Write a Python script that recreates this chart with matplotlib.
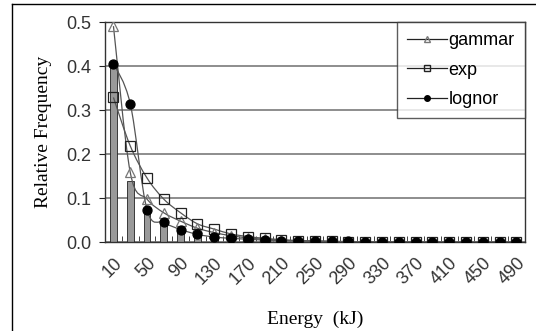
import matplotlib.pyplot as plt
from matplotlib.path import Path
from matplotlib.patches import PathPatch
from matplotlib.lines import Line2D

# energy classes (kJ)
energy = [10, 30, 50, 70, 90, 110, 130, 150, 170, 190, 210, 230, 250,
          270, 290, 310, 330, 350, 370, 390, 410, 430, 450, 470, 490]
tick_labels = ['10', '50', '90', '130', '170', '210', '250', '290',
               '330', '370', '410', '450', '490']

# observed relative frequency (bars)
observed = [0.405, 0.139, 0.075, 0.045, 0.028, 0.018, 0.012, 0.008, 0.006,
            0.004, 0.003, 0.002, 0.002, 0.001, 0.001, 0.001, 0.001, 0.001,
            0.0, 0.0, 0.0, 0.0, 0.0, 0.0, 0.0]

# fitted distributions
gammar = [0.491, 0.159, 0.098, 0.067, 0.048, 0.032, 0.022, 0.015, 0.010,
          0.007, 0.005, 0.003, 0.002, 0.002, 0.001, 0.001, 0.001, 0.0,
          0.0, 0.0, 0.0, 0.0, 0.0, 0.0, 0.0]
exp = [0.329, 0.219, 0.146, 0.098, 0.067, 0.042, 0.030, 0.019, 0.013,
       0.009, 0.006, 0.004, 0.003, 0.002, 0.001, 0.001, 0.001, 0.0,
       0.0, 0.0, 0.0, 0.0, 0.0, 0.0, 0.0]
lognor = [0.406, 0.315, 0.074, 0.045, 0.029, 0.018, 0.012, 0.009, 0.007,
          0.005, 0.004, 0.003, 0.003, 0.002, 0.002, 0.001, 0.001, 0.001,
          0.001, 0.001, 0.0, 0.0, 0.0, 0.0, 0.0]


def smooth_path(xs, ys):
    # Catmull-Rom style bezier, like Excel's smoothed lines
    pts = list(zip(xs, ys))
    verts = [pts[0]]
    codes = [Path.MOVETO]
    n = len(pts)
    for i in range(n - 1):
        p0 = pts[i - 1] if i > 0 else pts[i]
        p1 = pts[i]
        p2 = pts[i + 1]
        p3 = pts[i + 2] if i + 2 < n else pts[i + 1]
        c1 = (p1[0] + (p2[0] - p0[0]) / 6, p1[1] + (p2[1] - p0[1]) / 6)
        c2 = (p2[0] - (p3[0] - p1[0]) / 6, p2[1] - (p3[1] - p1[1]) / 6)
        verts += [c1, c2, p2]
        codes += [Path.CURVE4] * 3
    return Path(verts, codes)


fig = plt.figure(figsize=(5.36, 3.31), dpi=100)
ax = fig.add_axes([0.196, 0.268, 0.783, 0.665])

x = list(range(len(energy)))

ax.bar(x, observed, width=0.4, color='#999999', edgecolor='#222222',
       linewidth=0.6, zorder=2)

series = [
    ('gammar', gammar, '^', 'none', '#777777'),
    ('exp', exp, 's', 'none', '#222222'),
    ('lognor', lognor, 'o', '#000000', '#000000'),
]
handles = []
for name, vals, mk, fc, ec in series:
    ax.add_patch(PathPatch(smooth_path(x, vals), fill=False,
                           edgecolor='#555555', linewidth=0.9, zorder=3))
    ax.plot(x, vals, linestyle='none', marker=mk, markersize=6.5,
            markerfacecolor=fc, markeredgecolor=ec, markeredgewidth=0.9,
            zorder=4)
    handles.append(Line2D([], [], color='#222222', linewidth=0.9, marker=mk,
                          markersize=4, markerfacecolor=fc,
                          markeredgecolor=ec, label=name))

ax.set_xlim(-0.5, len(energy) - 0.5)
ax.set_ylim(0, 0.5)
ax.set_yticks([0.0, 0.1, 0.2, 0.3, 0.4, 0.5])
ax.set_yticklabels(['0.0', '0.1', '0.2', '0.3', '0.4', '0.5'],
                   fontfamily='Liberation Sans', fontsize=13, color='#333333')
ax.yaxis.grid(True, color='#7a7a7a', linewidth=1.2, zorder=0)
ax.set_axisbelow(True)

ax.set_xticks(x[::2])
ax.set_xticklabels(tick_labels, rotation=45, ha='right', va='top',
                   rotation_mode='anchor', fontfamily='Liberation Sans',
                   fontsize=13, color='#333333')
ax.set_xticks([i + 0.5 for i in x[:-1]], minor=True)
ax.tick_params(axis='x', which='major', length=0, pad=9)
ax.tick_params(axis='x', which='minor', direction='in', length=4,
               color='#222222')
ax.tick_params(axis='y', length=4, color='#222222', pad=6)

for sp in ax.spines.values():
    sp.set_color('#333333')
    sp.set_linewidth(1.0)

ax.set_xlabel('Energy  (kJ)', fontfamily='Liberation Serif', fontsize=14,
              labelpad=16)
ax.set_ylabel('Relative Frequency', fontfamily='Liberation Serif',
              fontsize=14, labelpad=10)

leg = ax.legend(handles=handles, loc='upper right', bbox_to_anchor=(1.0, 1.0),
                prop={'family': 'Liberation Sans', 'size': 13},
                frameon=True, fancybox=False, handlelength=2.2,
                handletextpad=0.1, borderpad=0.55, labelspacing=0.7,
                borderaxespad=0)
leg.get_frame().set_edgecolor('#333333')
leg.get_frame().set_linewidth(1.0)
leg.set_zorder(10)

# outer chart border (left and top)
fig.add_artist(Line2D([0.022, 0.022], [0, 0.988], transform=fig.transFigure,
                      color='black', linewidth=1.0))
fig.add_artist(Line2D([0.022, 1.0], [0.988, 0.988], transform=fig.transFigure,
                      color='black', linewidth=1.0))

fig.savefig('out.png', dpi=100)
